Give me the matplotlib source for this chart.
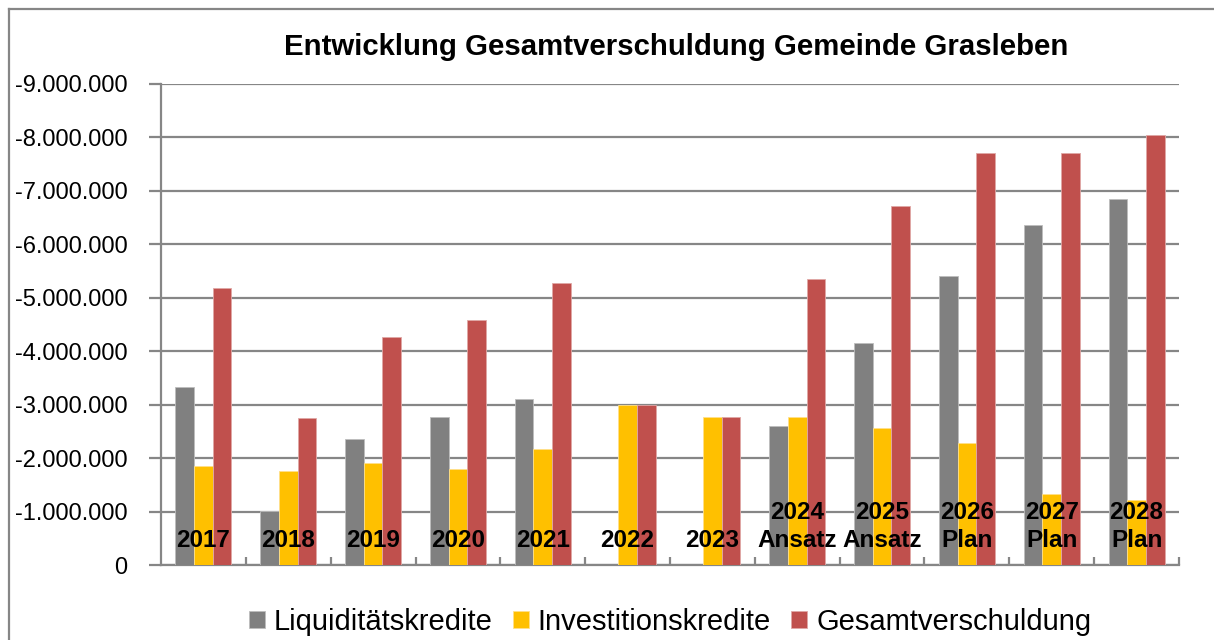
import numpy as np
import matplotlib
matplotlib.use("Agg")
import matplotlib.pyplot as plt
from matplotlib.lines import Line2D

plt.rcParams['font.family'] = ['Liberation Sans', 'DejaVu Sans']

# data (Euro, Schulden negativ)
jahre = ["2017", "2018", "2019", "2020", "2021", "2022", "2023",
         "2024\nAnsatz", "2025\nAnsatz", "2026\nPlan", "2027\nPlan", "2028\nPlan"]
liquiditaet = [-3330000, -1010000, -2350000, -2770000, -3100000, 0, 0,
               -2600000, -4150000, -5400000, -6360000, -6840000]
investition = [-1860000, -1760000, -1910000, -1790000, -2170000, -2990000, -2770000,
               -2760000, -2560000, -2290000, -1330000, -1210000]
gesamt = [-5180000, -2750000, -4260000, -4580000, -5270000, -2990000, -2770000,
          -5360000, -6720000, -7700000, -7710000, -8050000]
yticks = [0, -1000000, -2000000, -3000000, -4000000, -5000000,
          -6000000, -7000000, -8000000, -9000000]

grau = "#808080"
gelb = "#FFC000"
rot = "#C0504D"
linie = "#868686"

W, H = 1214, 640
fig = plt.figure(figsize=(W / 100, H / 100), dpi=100)
ax = fig.add_axes([161 / W, 1 - 565 / H, (1179 - 161) / W, (565 - 84) / H])

x = np.arange(len(jahre))
bw = 0.22
ax.bar(x - bw, liquiditaet, bw, color=grau, edgecolor="#bdbdbd", linewidth=0.6,
       label="Liquiditätskredite", zorder=3)
ax.bar(x, investition, bw, color=gelb, edgecolor="#ffe08a", linewidth=0.6,
       label="Investitionskredite", zorder=3)
ax.bar(x + bw, gesamt, bw, color=rot, edgecolor="#e0a8a6", linewidth=0.6,
       label="Gesamtverschuldung", zorder=3)

ax.set_xlim(-0.5, len(jahre) - 0.5)
ax.set_ylim(0, -9000000)
ax.set_yticks(yticks)
ax.set_yticklabels([f"{v:,.0f}".replace(",", ".") for v in yticks], fontsize=17)
ax.yaxis.grid(True, color=linie, linewidth=1.6, zorder=0)
ax.tick_params(axis="y", direction="out", length=9, width=1.6, color=linie, pad=15)

ax.set_xticks([])
ax.set_xticks(np.arange(len(jahre)) + 0.5, minor=True)
ax.tick_params(axis="x", which="minor", direction="in", length=6, width=1.6, color=linie)

for s in ["top", "right"]:
    ax.spines[s].set_visible(False)
for s in ["left", "bottom"]:
    ax.spines[s].set_color(linie)
    ax.spines[s].set_linewidth(1.6)

# year labels inside the plot
for xi, lab in zip(x, jahre):
    ax.text(xi, 0.028, lab, transform=ax.get_xaxis_transform(), ha="center", va="bottom",
            fontsize=17.5, fontweight="bold", linespacing=1.25, zorder=4)

fig.text(676 / W, 1 - 47 / H, "Entwicklung Gesamtverschuldung Gemeinde Grasleben",
         ha="center", va="center", fontsize=21.2, fontweight="bold")

fig.legend(loc="center", bbox_to_anchor=(670 / W, 1 - 622 / H), ncol=3, frameon=False,
           fontsize=21, handlelength=0.55, handleheight=0.55, handletextpad=0.3,
           columnspacing=0.7)

# chart border (left and top)
fig.add_artist(Line2D([9 / W, 9 / W], [0, 1 - 9 / H], color=linie, linewidth=1.6))
fig.add_artist(Line2D([9 / W, 1], [1 - 9 / H, 1 - 9 / H], color=linie, linewidth=1.6))

fig.savefig("out.png", dpi=100)
